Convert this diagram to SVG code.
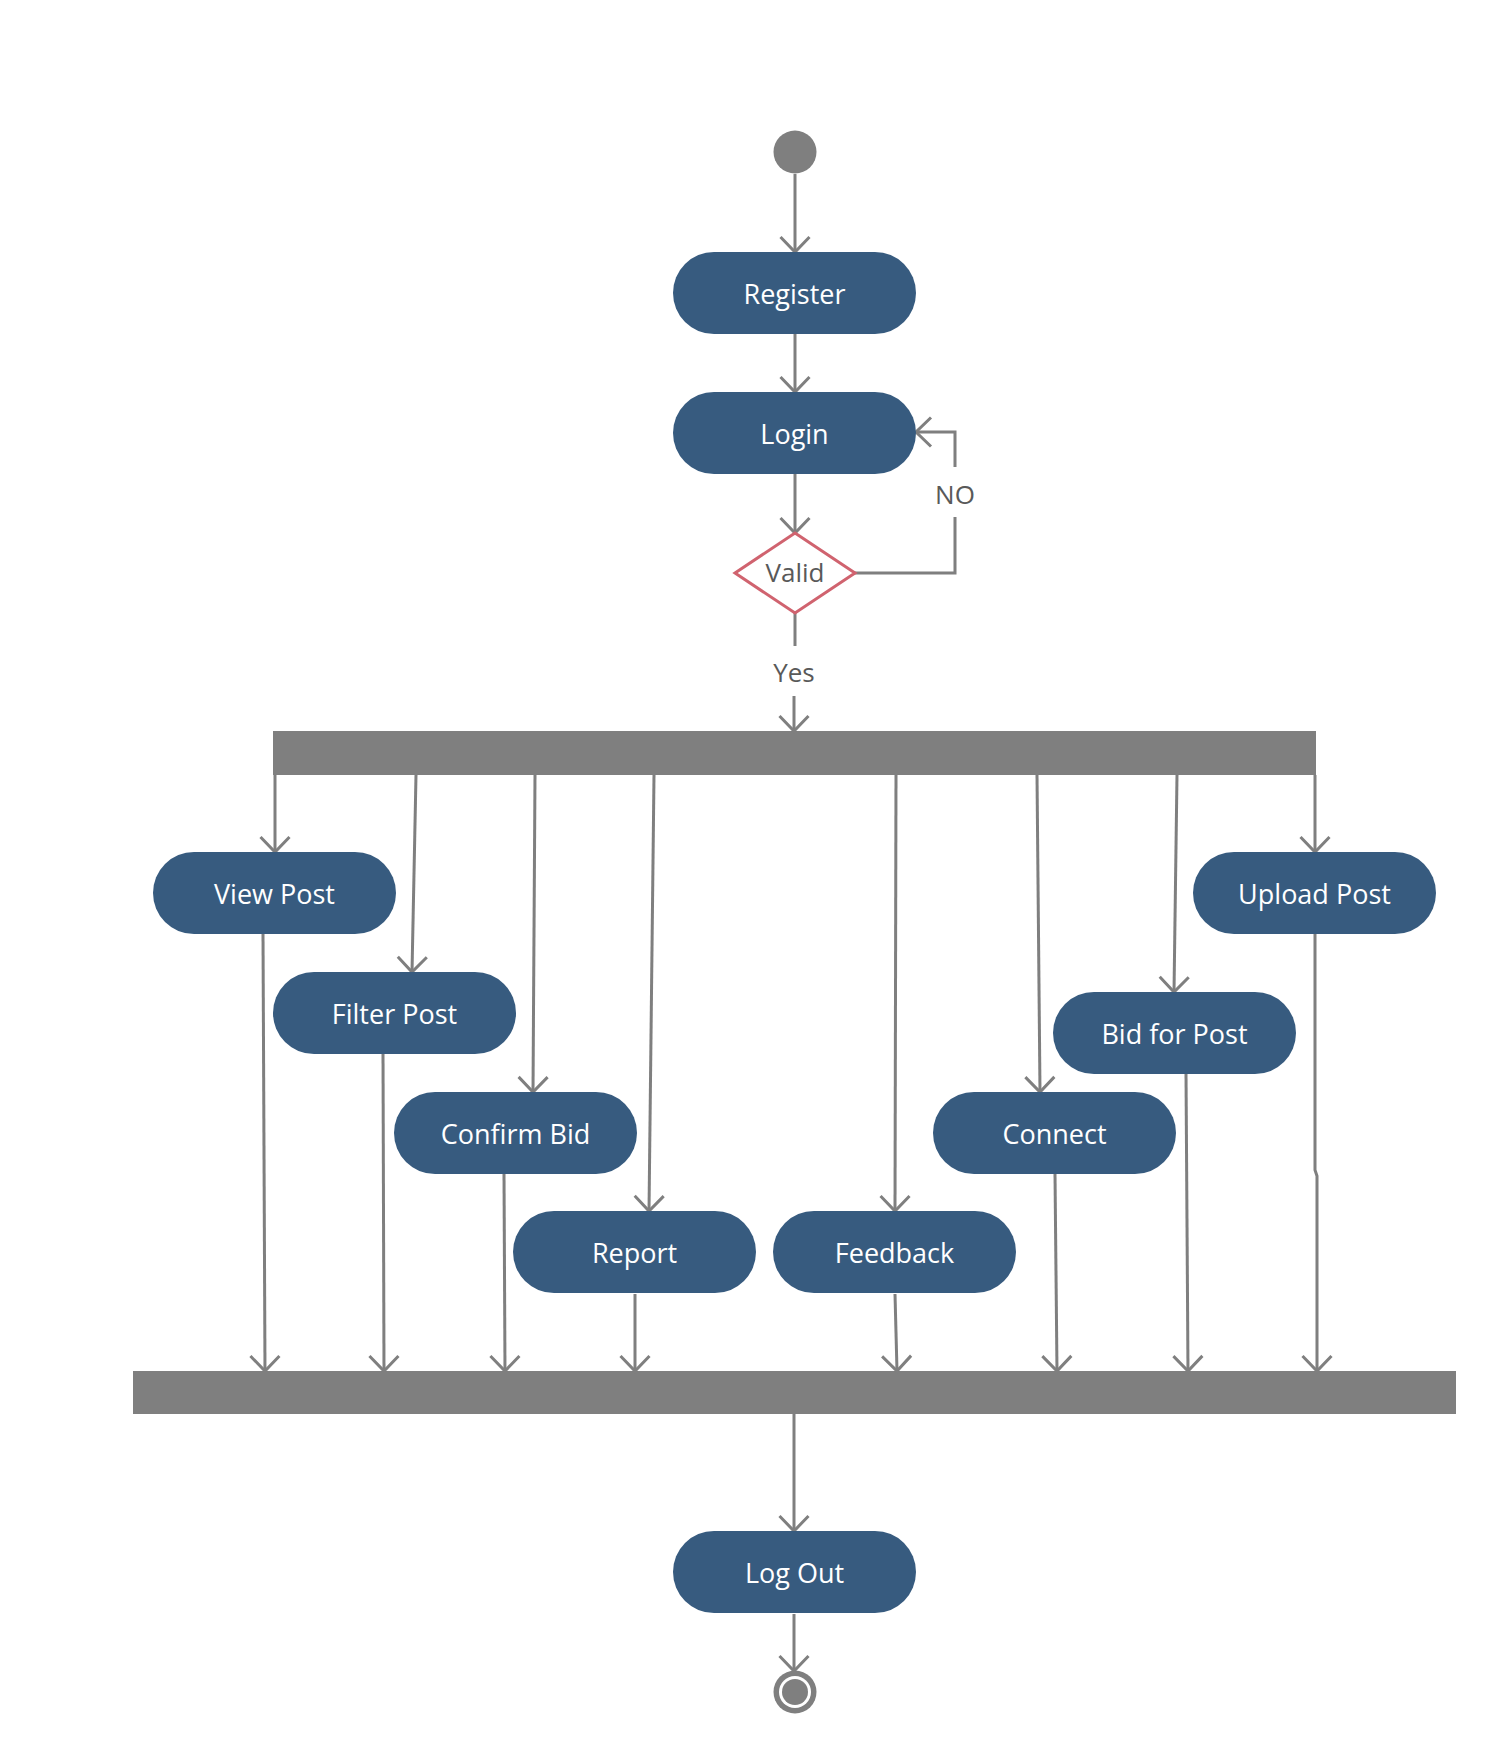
<svg xmlns="http://www.w3.org/2000/svg" width="1493" height="1754" viewBox="0 0 1493 1754">
<style>
.node rect{fill:#375b7f}
.node text{fill:#ffffff;font-family:"Open Sans","Noto Sans","Liberation Sans",sans-serif;font-size:27px;text-anchor:middle}
.bar{fill:#7f7f7f}
.conn path{fill:none;stroke:#7f7f7f;stroke-width:3}
.lbl{fill:#595959;font-family:"Open Sans","Noto Sans","Liberation Sans",sans-serif;font-size:26px;text-anchor:middle}
</style>
<defs>
<marker id="arr" viewBox="-20 -20 24 40" refX="0" refY="0" markerWidth="24" markerHeight="40" markerUnits="userSpaceOnUse" orient="auto">
<path d="M-15,-14.5 L0,0 L-15,14.5" fill="none" stroke="#7f7f7f" stroke-width="3"/>
</marker>
</defs>
<rect width="1493" height="1754" fill="#ffffff"/>

<g id="start"><circle cx="795" cy="152" r="21.5" fill="#7f7f7f"/></g>

<g id="fork"><rect class="bar" x="273" y="731" width="1043" height="44"/></g>
<g id="join"><rect class="bar" x="133" y="1371" width="1323" height="43"/></g>

<g id="connectors" class="conn">
<path d="M795,174 L795,252" marker-end="url(#arr)"/>
<path d="M795,334 L795,392" marker-end="url(#arr)"/>
<path d="M795,474 L795,533" marker-end="url(#arr)"/>
<path d="M854,573 L955,573 L955,517"/>
<path d="M955,467 L955,432 L916,432" marker-end="url(#arr)"/>
<path d="M795,613 L795,646"/>
<path d="M794,696 L794,731" marker-end="url(#arr)"/>
<path d="M275,775 L275,852" marker-end="url(#arr)"/>
<path d="M416,775 L412,972" marker-end="url(#arr)"/>
<path d="M535,775 L533,1092" marker-end="url(#arr)"/>
<path d="M654,775 L649,1211" marker-end="url(#arr)"/>
<path d="M896,775 L895,1211" marker-end="url(#arr)"/>
<path d="M1037,775 L1040,1092" marker-end="url(#arr)"/>
<path d="M1177,775 L1174,992" marker-end="url(#arr)"/>
<path d="M1315,775 L1315,852" marker-end="url(#arr)"/>
<path d="M263,934 L265,1371" marker-end="url(#arr)"/>
<path d="M383,1054 L384,1371" marker-end="url(#arr)"/>
<path d="M504,1174 L505,1371" marker-end="url(#arr)"/>
<path d="M635,1294 L635,1371" marker-end="url(#arr)"/>
<path d="M895,1294 L897,1371" marker-end="url(#arr)"/>
<path d="M1055,1174 L1057,1371" marker-end="url(#arr)"/>
<path d="M1186,1074 L1188,1371" marker-end="url(#arr)"/>
<path d="M1315,934 L1315,1170 L1317,1176 L1317,1371" marker-end="url(#arr)"/>
<path d="M794,1414 L794,1531" marker-end="url(#arr)"/>
<path d="M794,1614 L794,1671" marker-end="url(#arr)"/>
<text class="lbl" x="955" y="504">NO</text>
<text class="lbl" x="794" y="682">Yes</text>
</g>

<g id="register" class="node"><rect x="673" y="252" width="243" height="82" rx="41"/><text x="794.5" y="304">Register</text></g>
<g id="login" class="node"><rect x="673" y="392" width="243" height="82" rx="41"/><text x="794.5" y="444">Login</text></g>
<g id="valid"><polygon points="795,533 855,573 795,613 735,573" fill="#ffffff" stroke="#d0636f" stroke-width="3"/><text class="lbl" x="795" y="582">Valid</text></g>
<g id="viewpost" class="node"><rect x="153" y="852" width="243" height="82" rx="41"/><text x="274.5" y="904">View Post</text></g>
<g id="filterpost" class="node"><rect x="273" y="972" width="243" height="82" rx="41"/><text x="394.5" y="1024">Filter Post</text></g>
<g id="confirmbid" class="node"><rect x="394" y="1092" width="243" height="82" rx="41"/><text x="515.5" y="1144">Confirm Bid</text></g>
<g id="report" class="node"><rect x="513" y="1211" width="243" height="82" rx="41"/><text x="634.5" y="1263">Report</text></g>
<g id="feedback" class="node"><rect x="773" y="1211" width="243" height="82" rx="41"/><text x="894.5" y="1263">Feedback</text></g>
<g id="connect" class="node"><rect x="933" y="1092" width="243" height="82" rx="41"/><text x="1054.5" y="1144">Connect</text></g>
<g id="bidforpost" class="node"><rect x="1053" y="992" width="243" height="82" rx="41"/><text x="1174.5" y="1044">Bid for Post</text></g>
<g id="uploadpost" class="node"><rect x="1193" y="852" width="243" height="82" rx="41"/><text x="1314.5" y="904">Upload Post</text></g>
<g id="logout" class="node"><rect x="673" y="1531" width="243" height="82" rx="41"/><text x="794.5" y="1583">Log Out</text></g>

<g id="end"><circle cx="795" cy="1692" r="21.5" fill="#7f7f7f"/><circle cx="795" cy="1692" r="16" fill="#ffffff"/><circle cx="795" cy="1692" r="13" fill="#7f7f7f"/></g>
</svg>
